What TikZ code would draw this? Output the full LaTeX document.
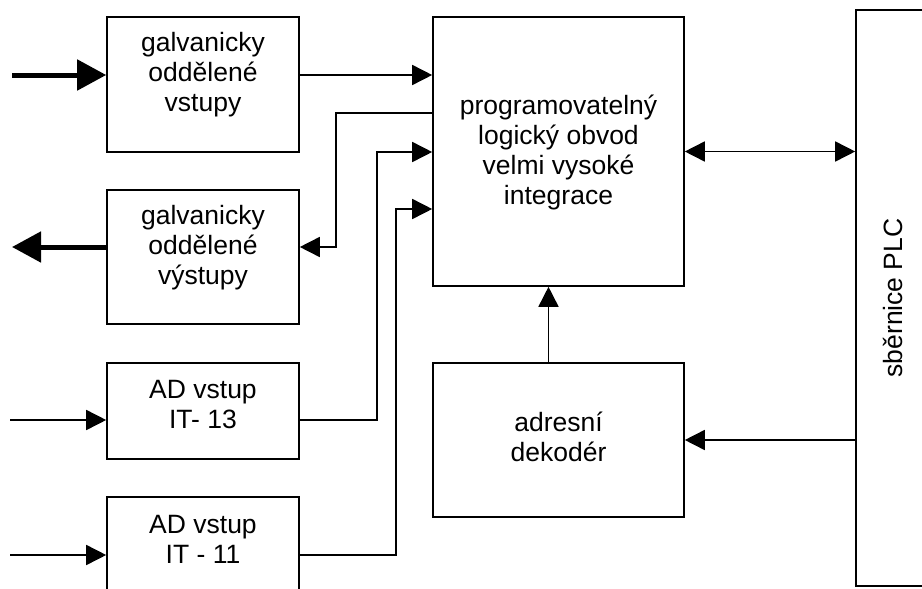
\documentclass[tikz,border=0pt]{standalone}
\usepackage{fontspec}
\setmainfont{Liberation Sans}
\usetikzlibrary{arrows.meta}

\begin{document}
\begin{tikzpicture}[x=1pt,y=-1pt,
  blok/.style={draw,line width=1.6pt,inner sep=0pt},
  popis/.style={align=center,inner sep=0pt,font=\fontsize{26.5}{30}\selectfont},
  sipka/.style={line width=1.6pt,-{Triangle[length=20pt,width=20pt]}},
  obe/.style={line width=1.6pt,{Triangle[length=20pt,width=20pt]}-{Triangle[length=20pt,width=20pt]}},
  tlusta/.style={line width=5pt,-{Triangle[length=29pt,width=30pt]}}]
 \useasboundingbox (0,0) rectangle (922,589);
 \clip (0,0) rectangle (922,589);

 % bloky vlevo
 \node[blok,minimum width=192pt,minimum height=135pt] (vstupy) at (203,84.5) {};
 \node[popis] (vstupyT) at (203,75) {galvanicky\\oddělené\\vstupy};
 \node[blok,minimum width=192pt,minimum height=134pt] (vystupy) at (203,257) {};
 \node[popis] (vystupyT) at (203,248) {galvanicky\\oddělené\\výstupy};
 \node[blok,minimum width=192pt,minimum height=96pt] (ad13) at (203,411) {};
 \node[popis] (ad13T) at (203,405) {AD vstup\\IT- 13};
 \node[blok,minimum width=192pt,minimum height=96pt] (ad11) at (203,545) {};
 \node[popis] (ad11T) at (203,539) {AD vstup\\IT - 11};

 % obvod, dekoder, sbernice
 \node[blok,minimum width=251pt,minimum height=269pt] (obvod) at (558.5,151.5) {};
 \node[popis] (obvodT) at (558.5,152) {programovatelný\\logický obvod\\velmi vysoké\\integrace};
 \node[blok,minimum width=251pt,minimum height=154pt] (dekoder) at (558.5,440) {};
 \node[popis] (dekoderT) at (558.5,437) {adresní\\dekodér};
 \node[blok,minimum width=74pt,minimum height=576pt] (sbernice) at (893,298) {};
 \node[popis,rotate=90] (sberniceT) at (sbernice.center) {sběrnice PLC};

 % volne konce a vstupy obvodu
 \coordinate (vstup) at (12,75);
 \coordinate (vystup) at (12,247);
 \coordinate (in13) at (10,420);
 \coordinate (in11) at (10,555);
 \coordinate (zpet) at (obvod.west |- 0,113);
 \coordinate (pin13) at (obvod.west |- 0,152);
 \coordinate (pin11) at (obvod.west |- 0,209);

 \draw[tlusta] (vstup) -- (vstupy.west |- vstup);
 \draw[tlusta] (vystupy.west |- vystup) -- (vystup);
 \draw[sipka] (in13) -- (ad13.west |- in13);
 \draw[sipka] (in11) -- (ad11.west |- in11);

 \draw[sipka] (vstupy.east |- vstup) -- (obvod.west |- vstup);
 \draw[sipka] (zpet) -- ++(-96,0) |- (vystupy.east |- vystup);
 \draw[sipka] (ad13.east |- in13) -- ++(77,0) |- (pin13);
 \draw[sipka] (ad11.east |- in11) -- ++(96,0) |- (pin11);

 \draw[obe] (obvod.east) -- (sbernice.west |- obvod.east);
 \draw[sipka] ([xshift=-10pt]dekoder.north) -- ([xshift=-10pt]obvod.south);
 \draw[sipka] (sbernice.west |- dekoder.east) -- (dekoder.east);
\end{tikzpicture}
\end{document}
